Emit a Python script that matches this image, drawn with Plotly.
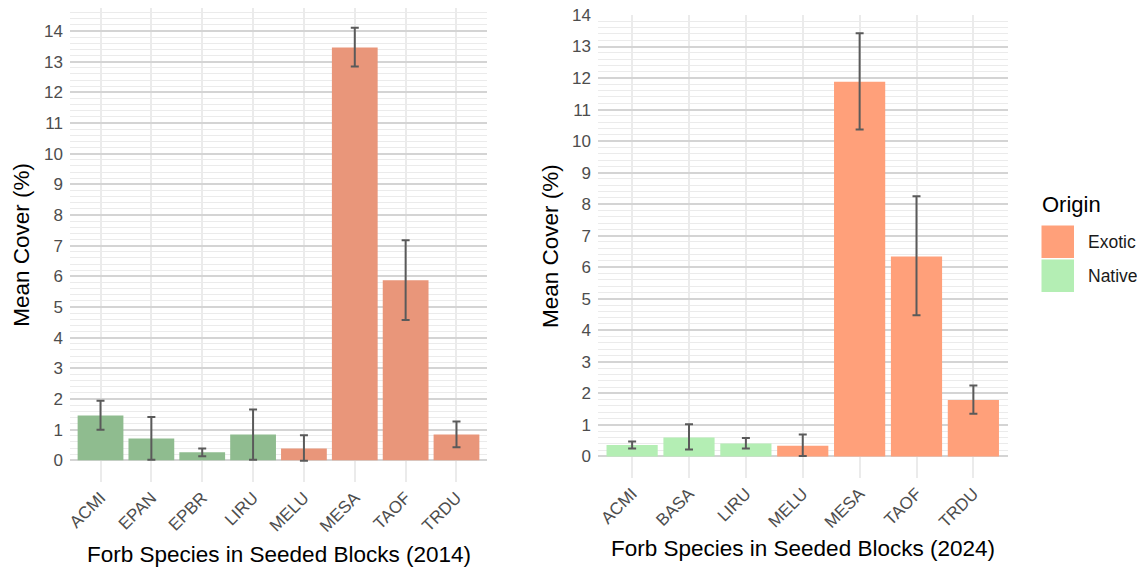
import numpy as np
import plotly.graph_objects as go

# ---------------- data ----------------
species_2014 = ["ACMI", "EPAN", "EPBR", "LIRU", "MELU", "MESA", "TAOF", "TRDU"]
origin_2014 = ["Native", "Native", "Native", "Native", "Exotic", "Exotic", "Exotic", "Exotic"]
mean_2014 = [1.46, 0.71, 0.26, 0.84, 0.39, 13.46, 5.87, 0.84]
upper_2014 = [1.94, 1.41, 0.39, 1.66, 0.82, 14.11, 7.18, 1.27]
lower_2014 = [1.00, 0.02, 0.13, 0.02, -0.01, 12.84, 4.58, 0.43]

species_2024 = ["ACMI", "BASA", "LIRU", "MELU", "MESA", "TAOF", "TRDU"]
origin_2024 = ["Native", "Native", "Native", "Exotic", "Exotic", "Exotic", "Exotic"]
mean_2024 = [0.36, 0.60, 0.41, 0.34, 11.88, 6.34, 1.79]
upper_2024 = [0.47, 1.02, 0.58, 0.69, 13.42, 8.25, 2.25]
lower_2024 = [0.25, 0.22, 0.25, 0.01, 10.37, 4.48, 1.35]

origins = ["Exotic", "Native"]
colors_2014 = {"Exotic": "#E9967A", "Native": "#8FBC8F"}
colors_2024 = {"Exotic": "#FFA07A", "Native": "#B4EEB4"}

# page body has an 8px margin; compensate so positions match the window
OFF = 8
W, H = 1145 - OFF, 567 - OFF
FONT = "Liberation Sans, Arial, sans-serif"
TICK_COLOR = "#4D4D4D"
ERR_COLOR = "#5A5A5A"


def px_x(p):
    return (p - OFF) / W


def px_y(p):
    return min(1.0, max(0.0, 1 - (p - OFF) / H))


fig = go.Figure()


def add_panel(species, origin, mean, upper, lower, colors, xa, ya):
    err_plus = [u - m for u, m in zip(upper, mean)]
    err_minus = [m - l for m, l in zip(mean, lower)]
    fig.add_trace(go.Bar(
        x=species, y=mean,
        marker=dict(color=[colors[o] for o in origin], line=dict(width=0)),
        width=0.9,
        error_y=dict(type="data", array=err_plus, arrayminus=err_minus,
                     color=ERR_COLOR, thickness=2, width=4),
        xaxis=xa, yaxis=ya, showlegend=False,
    ))


add_panel(species_2014, origin_2014, mean_2014, upper_2014, lower_2014, colors_2014, "x", "y")
add_panel(species_2024, origin_2024, mean_2024, upper_2024, lower_2024, colors_2024, "x2", "y2")

left_dom_x = [px_x(70), px_x(487)]
right_dom_x = [px_x(598), px_x(1007.5)]
left_dom_y = [px_y(481.5), px_y(8)]
right_dom_y = [px_y(477.5), px_y(14.5)]

left_range = [-0.69, 14.75]
right_range = [-0.67, 14.015]

major_ticks = list(range(0, 15))


def minor_vals(top):
    vals = []
    for v in np.arange(0, top + 1e-9, 0.2):
        v = round(float(v), 2)
        if abs(v - round(v)) > 1e-6:
            vals.append(v)
    return vals


def yaxis_cfg(dom, rng, anchor):
    return dict(
        domain=dom, range=rng, anchor=anchor,
        tickmode="array", tickvals=major_ticks, ticktext=[str(t) for t in major_ticks],
        showgrid=True, gridcolor="#D4D4D4", gridwidth=1.6,
        minor=dict(tickmode="array", tickvals=minor_vals(rng[1]), showgrid=True,
                   gridcolor="#EBEBEB", gridwidth=1, ticks=""),
        zeroline=False, showline=False, ticks="",
        tickfont=dict(family=FONT, size=17, color=TICK_COLOR),
        ticklabelstandoff=6, ticklabeloverflow="allow",
        fixedrange=True, automargin=False,
    )


def xaxis_cfg(dom, cats, anchor):
    return dict(
        domain=dom, anchor=anchor, type="category",
        categoryorder="array", categoryarray=cats,
        range=[-0.6, len(cats) - 0.4],
        showgrid=True, gridcolor="#EBEBEB", gridwidth=1.6,
        zeroline=False, showline=False, ticks="",
        tickangle=-45,
        tickfont=dict(family=FONT, size=17, color=TICK_COLOR),
        ticklabelstandoff=2, ticklabeloverflow="allow",
        fixedrange=True, automargin=False,
    )


fig.update_layout(
    width=W, height=H,
    margin=dict(l=0, r=0, t=0, b=0),
    paper_bgcolor="white", plot_bgcolor="white",
    font=dict(family=FONT),
    xaxis=xaxis_cfg(left_dom_x, species_2014, "y"),
    yaxis=yaxis_cfg(left_dom_y, left_range, "x"),
    xaxis2=xaxis_cfg(right_dom_x, species_2024, "y2"),
    yaxis2=yaxis_cfg(right_dom_y, right_range, "x2"),
    showlegend=False,
)

# axis titles
title_font = dict(family=FONT, size=22.5, color="#000000")
fig.add_annotation(text="Mean Cover (%)", x=px_x(22), y=(px_y(481.5) + px_y(6.5)) / 2,
                   xref="paper", yref="paper", xanchor="center", yanchor="middle",
                   textangle=-90, showarrow=False, font=title_font)
fig.add_annotation(text="Mean Cover (%)", x=px_x(550), y=(right_dom_y[0] + right_dom_y[1]) / 2,
                   xref="paper", yref="paper", xanchor="center", yanchor="middle",
                   textangle=-90, showarrow=False, font=title_font)
fig.add_annotation(text="Forb Species in Seeded Blocks (2014)", x=(left_dom_x[0] + left_dom_x[1]) / 2,
                   y=px_y(554), xref="paper", yref="paper", xanchor="center", yanchor="middle",
                   showarrow=False, font=title_font)
fig.add_annotation(text="Forb Species in Seeded Blocks (2024)", x=(right_dom_x[0] + right_dom_x[1]) / 2,
                   y=px_y(548), xref="paper", yref="paper", xanchor="center", yanchor="middle",
                   showarrow=False, font=title_font)

# legend (manual, ggplot style)
fig.add_annotation(text="Origin", x=px_x(1040), y=px_y(204), xref="paper", yref="paper",
                   xanchor="left", yanchor="middle", showarrow=False,
                   font=dict(family=FONT, size=22, color="#000000"))
box_tops = [225.5, 259.5]
for o, top in zip(origins, box_tops):
    fig.add_shape(type="rect", xref="paper", yref="paper",
                  x0=px_x(1041.5), x1=px_x(1074), y0=px_y(top + 32.5), y1=px_y(top),
                  fillcolor=colors_2024[o], line=dict(width=0))
    fig.add_annotation(text=o, x=px_x(1086), y=px_y(top + 16.5), xref="paper", yref="paper",
                       xanchor="left", yanchor="middle", showarrow=False,
                       font=dict(family=FONT, size=17.5, color="#1A1A1A"))

fig.write_html("out.html")
